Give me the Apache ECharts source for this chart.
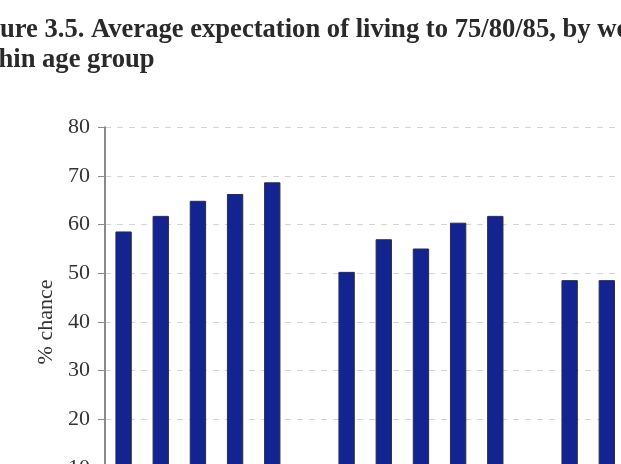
<!DOCTYPE html>
<html>
<head>
<meta charset="utf-8">
<script src="https://cdn.jsdelivr.net/npm/echarts@6/dist/echarts.min.js"></script>
<style>
html,body{margin:0;padding:0;overflow:hidden;background:#fff;width:621px;height:464px;}
#chart{position:absolute;left:0;top:0;width:700px;height:600px;}
</style>
</head>
<body>
<div id="chart"></div>
<script>
// Categories: wealth quintiles within age groups, blank spacers between groups
const categories = ['Q1a','Q2a','Q3a','Q4a','Q5a','', 'Q1b','Q2b','Q3b','Q4b','Q5b',' ', 'Q1c','Q2c'];
const values = [58.6, 61.8, 64.9, 66.3, 68.7, null, 50.3, 57.0, 55.1, 60.4, 61.8, null, 48.6, 48.6];
const yTicks = [0, 10, 20, 30, 40, 50, 60, 70, 80];

const chart = echarts.init(document.getElementById('chart'), null, {renderer: 'canvas'});
chart.setOption({
  animation: false,
  backgroundColor: '#fff',
  title: {
    text: 'Figure 3.5. Average expectation of living to 75/80/85, by wealth quintile\nwithin age group',
    left: -37,
    top: 15,
    padding: 0,
    textStyle: {
      fontFamily: 'Liberation Serif',
      fontWeight: 'bold',
      fontSize: 26.6,
      lineHeight: 30,
      color: '#2a2a2a'
    }
  },
  grid: {left: 105, top: 127.3, bottom: 83.3, right: 74.6, containLabel: false},
  xAxis: {
    type: 'category',
    data: categories,
    boundaryGap: true,
    axisLine: {lineStyle: {color: '#888', width: 2}},
    axisTick: {show: false},
    axisLabel: {show: false}
  },
  yAxis: {
    type: 'value',
    min: yTicks[0],
    max: yTicks[yTicks.length - 1],
    interval: 10,
    name: '% chance',
    nameLocation: 'middle',
    nameGap: 48,
    nameTextStyle: {fontFamily: 'Liberation Serif', fontSize: 22, color: '#333'},
    axisLine: {show: true, lineStyle: {color: '#8a8a8a', width: 2}},
    axisTick: {show: true, length: 7, lineStyle: {color: '#8a8a8a', width: 1}},
    axisLabel: {fontFamily: 'Liberation Serif', fontSize: 22, color: '#333', margin: 15},
    splitLine: {show: true, lineStyle: {color: '#d4d4d4', width: 1, type: [6, 6]}}
  },
  series: [{
    type: 'bar',
    data: values,
    barWidth: '44%',
    itemStyle: {color: '#13238f', borderColor: '#2b2d45', borderWidth: 1}
  }]
});
</script>
</body>
</html>
